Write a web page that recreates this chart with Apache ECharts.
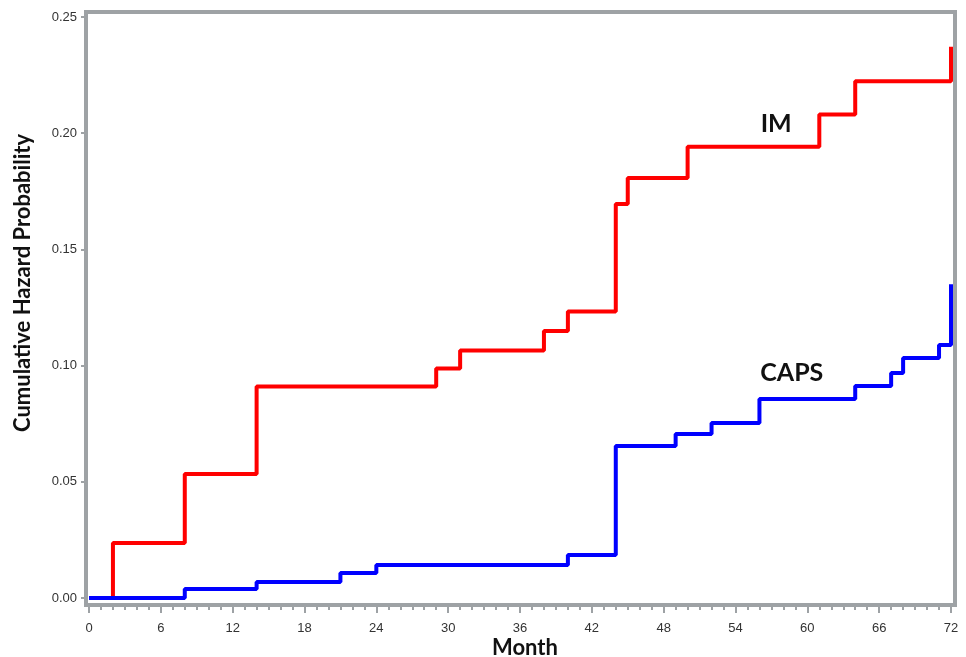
<!DOCTYPE html>
<html>
<head>
<meta charset="utf-8">
<script src="https://cdn.jsdelivr.net/npm/echarts@6/dist/echarts.min.js"></script>
<style>html,body{margin:0;padding:0;background:#fff}#c{width:966px;height:657px}</style>
</head>
<body>
<div id="c"></div>
<script>
// Cumulative hazard step data: [month, probability]
const imMonths  = [0, 2, 8, 14, 29, 31, 38, 40, 44, 45, 50, 61, 64, 72, 72];
const imValues  = [0, 0.0237, 0.0534, 0.0910, 0.0988, 0.1065, 0.1149, 0.1233, 0.1695, 0.1807, 0.1942, 0.2080, 0.2223, 0.2223, 0.2372];
const capsMonths = [0, 8, 14, 21, 24, 40, 44, 49, 52, 56, 64, 67, 68, 71, 72, 72];
const capsValues = [0, 0.0039, 0.0069, 0.0108, 0.0142, 0.0185, 0.0654, 0.0706, 0.0753, 0.0856, 0.0912, 0.0968, 0.1033, 0.1089, 0.1089, 0.1350];
const xTicks = [0, 6, 12, 18, 24, 30, 36, 42, 48, 54, 60, 66, 72];
const yTicks = [0, 0.05, 0.10, 0.15, 0.20, 0.25];
const labelIM = {name: 'IM', month: 57.4, value: 0.2040};
const labelCAPS = {name: 'CAPS', month: 58.7, value: 0.0968};
const xTitle = 'Month';
const yTitle = 'Cumulative Hazard Probability';

const grey = '#9ea2a5';
const chart = echarts.init(document.getElementById('c'), null, {renderer: 'canvas'});
const markLabel = (lab) => ({
  symbol: 'rect', symbolSize: [1, 1],
  itemStyle: {color: 'rgba(0,0,0,0)'},
  data: [{coord: [lab.month, lab.value], value: lab.name}],
  label: {show: true, formatter: lab.name, fontFamily: 'Lato', fontWeight: 'bold', fontSize: 25,
    color: '#111', position: 'inside', align: 'center', verticalAlign: 'middle'}
});
chart.setOption({
  animation: false,
  backgroundColor: '#fff',
  grid: {left: 89, right: 15, top: 17, bottom: 59, containLabel: false},
  xAxis: {
    type: 'value', min: xTicks[0], max: xTicks[xTicks.length - 1], interval: 6,
    offset: 7,
    axisLine: {show: false, onZero: false},
    axisTick: {show: true, length: 8, lineStyle: {color: grey, width: 2}},
    minorTick: {show: true, splitNumber: 6, length: 5, lineStyle: {color: grey, width: 2}},
    splitLine: {show: false},
    axisLabel: {margin: 17, fontFamily: 'Liberation Sans', fontSize: 13, color: '#333'}
  },
  yAxis: {
    type: 'value', min: yTicks[0], max: yTicks[yTicks.length - 1], interval: 0.05,
    offset: 3,
    axisLine: {show: false, onZero: false},
    axisTick: {show: true, length: 5, lineStyle: {color: grey, width: 2}},
    splitLine: {show: false},
    axisLabel: {margin: 9, fontFamily: 'Liberation Sans', fontSize: 13, color: '#333',
      formatter: v => v.toFixed(2)}
  },
  graphic: [
    {
      type: 'rect', z: -1,
      shape: {x: 86, y: 12, width: 869, height: 593},
      style: {fill: null, stroke: grey, lineWidth: 4}
    },
    {
      type: 'text', x: 525, y: 648,
      style: {text: xTitle, fontFamily: 'Lato', fontWeight: 'bold', fontSize: 22, fill: '#111',
        align: 'center', verticalAlign: 'middle'}
    },
    {
      type: 'text', x: 23, y: 283, rotation: Math.PI / 2,
      style: {text: yTitle, fontFamily: 'Lato', fontWeight: 'bold', fontSize: 22, fill: '#111',
        align: 'center', verticalAlign: 'middle'}
    }
  ],
  series: [
    {
      name: 'IM', type: 'line', step: 'end', showSymbol: false, clip: false,
      data: imMonths.map((m, i) => [m, imValues[i]]),
      lineStyle: {color: '#ff0000', width: 4},
      itemStyle: {color: '#ff0000'},
      markPoint: markLabel(labelIM)
    },
    {
      name: 'CAPS', type: 'line', step: 'end', showSymbol: false, clip: false,
      data: capsMonths.map((m, i) => [m, capsValues[i]]),
      lineStyle: {color: '#0000ff', width: 4},
      itemStyle: {color: '#0000ff'},
      markPoint: markLabel(labelCAPS)
    }
  ]
});
</script>
</body>
</html>
